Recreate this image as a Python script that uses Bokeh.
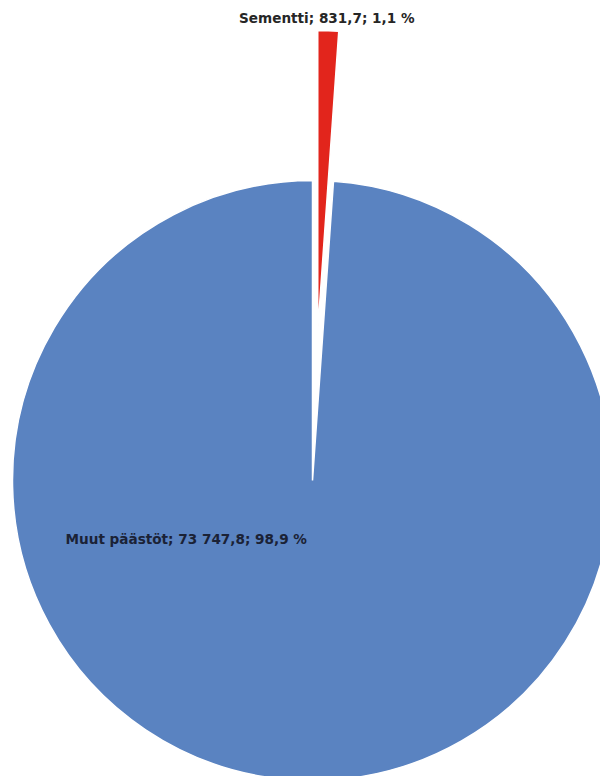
import math
from bokeh.plotting import figure
from bokeh.models import Range1d, ColumnDataSource
from bokeh.core.properties import value
from bokeh.embed import file_html
from bokeh.resources import INLINE

# Data
categories = ["Muut päästöt", "Sementti"]
values = [73747.8, 831.7]
value_labels = ["73 747,8", "831,7"]
percent_labels = ["98,9 %", "1,1 %"]
colors = ["#5A83C1", "#E2251C"]

W, H = 600, 776
p = figure(width=W, height=H, output_backend="svg", toolbar_location=None,
           x_range=Range1d(0, W), y_range=Range1d(0, H), min_border=0)
p.axis.visible = False
p.grid.visible = False
p.outline_line_color = None
p.background_fill_color = "white"
p.border_fill_color = "white"

cx, cy, R = 312, H - 480, 300
explode = 150
total = sum(values)
fr = [v / total for v in values]

# Sementti slice goes clockwise from 12 o'clock; the rest fills the circle
red_start = math.pi / 2 - 2 * math.pi * fr[1]
red_end = math.pi / 2
mid = (red_start + red_end) / 2
rx = cx + explode * math.cos(mid)
ry = cy + explode * math.sin(mid)

src = ColumnDataSource(dict(
    x=[cx, rx], y=[cy, ry],
    start=[red_end, red_start], end=[red_start, red_end],
    color=colors,
))
p.wedge(x="x", y="y", radius=R, start_angle="start", end_angle="end",
        fill_color="color", line_color="white", line_width=1.5, source=src)

font = value("DejaVu Sans")
# Sementti label above the exploded slice
p.text(x=[rx + 9], y=[ry + R + 13],
       text=[f"{categories[1]}; {value_labels[1]}; {percent_labels[1]}"],
       text_font=font, text_font_style="bold", text_font_size="13.6px",
       text_align="center", text_baseline="middle", text_color="#262626")
# Muut päästöt label inside the large slice
p.text(x=[cx - R + 53], y=[cy - 58],
       text=[f"{categories[0]}; {value_labels[0]}; {percent_labels[0]}"],
       text_font=font, text_font_style="bold", text_font_size="13.6px",
       text_align="left", text_baseline="middle", text_color="#1B2236")

open("out.html", "w").write(file_html(p, INLINE))
